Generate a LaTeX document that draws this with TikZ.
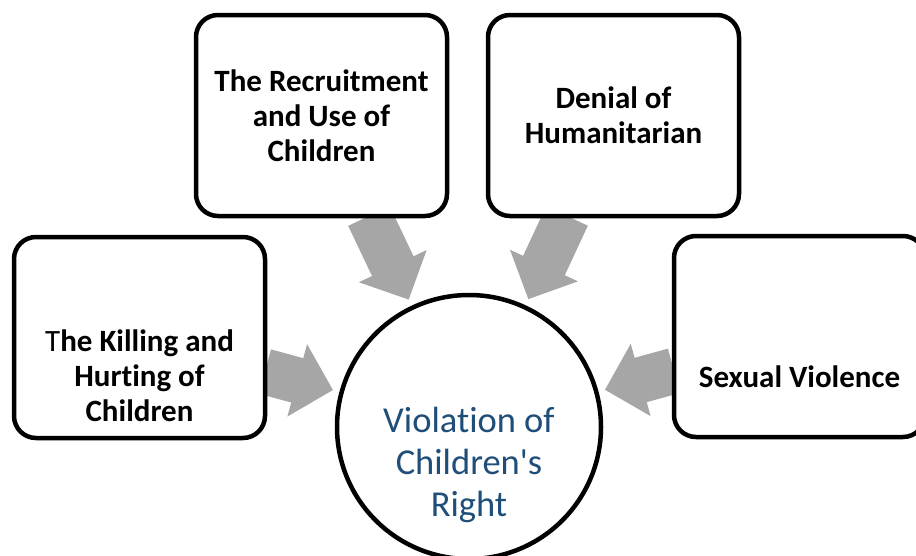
\documentclass[tikz,border=0pt]{standalone}
\usepackage{fontspec}
\setmainfont{Carlito}[Ligatures=NoCommon]
\newfontfamily\hubfont{Carlito}[Ligatures={TeXOff,NoCommon}]
\usetikzlibrary{calc,backgrounds}
\definecolor{arrowgray}{HTML}{A6A6A6}
\definecolor{hubblue}{HTML}{1F4E79}
\tikzset{
  box/.style={draw, line width=4.5pt, rounded corners=22pt, fill=white,
    minimum width=251pt, minimum height=201pt, outer sep=0pt, inner sep=0pt},
  boxtext/.style={font=\fontsize{31}{35}\selectfont\bfseries, align=center, text=black, inner sep=0pt},
  hub/.style={draw, circle, line width=4.5pt, fill=white, minimum size=264pt,
    inner sep=0pt, outer sep=0pt},
  hubtext/.style={font=\hubfont\fontsize{36.5}{42}\selectfont, align=center, text=hubblue, inner sep=0pt},
  blockarrow/.style={fill=arrowgray, draw=none}
}
\newcommand{\blockarrowfrom}[2]{%
  \path (#1) -- (#2) coordinate[pos=0] (s) coordinate[pos=1] (e);
  \coordinate (t) at ($(e)!9pt!(s)$);
  \coordinate (n) at ($(t)!37pt!(s)$);
  \fill[blockarrow] ($(s)!23pt!90:(t)$) -- ($(n)!23pt!-90:(s)$) -- ($(n)!37.5pt!-90:(s)$)
    -- (t) -- ($(n)!37.5pt!90:(s)$) -- ($(n)!23pt!90:(s)$) -- ($(s)!23pt!-90:(t)$) -- cycle;
}
\begin{document}
\begin{tikzpicture}[x=1pt,y=-1pt]
  \clip (0,0) rectangle (916,555);
  \node[box] (L) at (139.5,337.5) {};
  \node[box] (TL) at (321.5,115.5) {};
  \node[box] (TR) at (613.5,115.5) {};
  \node[box] (R) at (799.5,336.5) {};
  \node[hub] (C) at (469,427) {};
  \node[boxtext] (Lt) at ($(L.center)+(0,38)$) {{\mdseries T}he Killing and\\Hurting of\\Children};
  \node[boxtext] (TLt) at (TL.center) {The Recruitment\\and Use of\\Children};
  \node[boxtext] (TRt) at (TR.center) {Denial of\\Humanitarian};
  \node[boxtext] (Rt) at ($(R.center)+(0,40)$) {Sexual Violence};
  \node[hubtext] (Ct) at ($(C.center)+(0,38)$) {Violation of\\Children's\\Right};
  \begin{pgfonlayer}{background}
    \blockarrowfrom{L}{C}
    \blockarrowfrom{TL}{C}
    \blockarrowfrom{TR}{C}
    \blockarrowfrom{R}{C}
  \end{pgfonlayer}
\end{tikzpicture}
\end{document}
